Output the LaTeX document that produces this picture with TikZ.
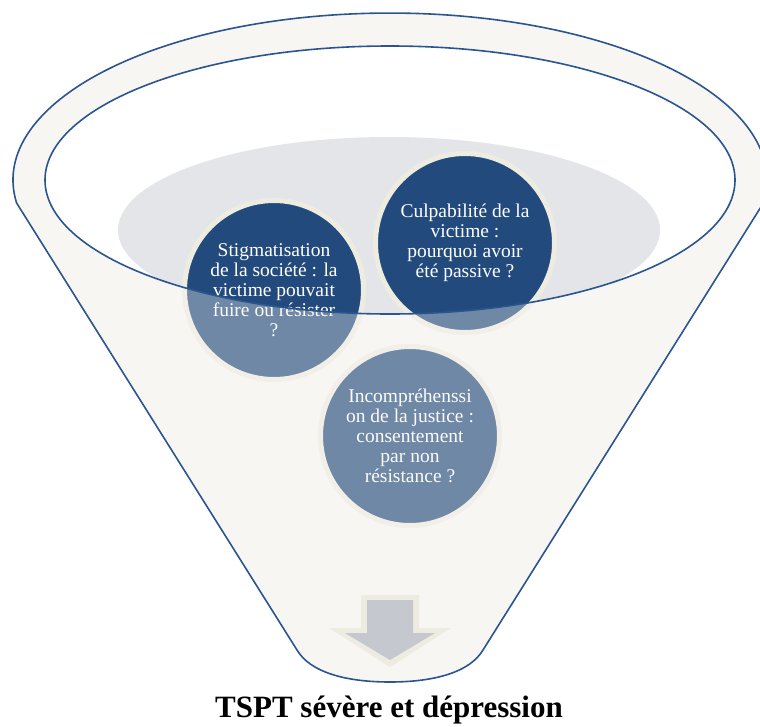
\documentclass[tikz,border=0pt]{standalone}
\usepackage{fontspec}
\setmainfont{Liberation Serif}
\definecolor{fline}{HTML}{2B5590}
\definecolor{ffill}{HTML}{F7F6F2}
\definecolor{cdark}{HTML}{224A7C}
\definecolor{cring}{HTML}{EEECE1}
\definecolor{lgray}{HTML}{E3E5E9}
\definecolor{agray}{HTML}{C5C8CE}
\tikzset{
  bubble/.style={circle, fill=cdark, draw=cring, line width=5pt, minimum size=179pt,
    inner sep=0pt, text=white, align=center, font=\fontsize{19.5}{20}\selectfont},
  outline/.style={draw=fline, line width=1.6pt},
  titlefont/.style={font=\fontsize{31}{33}\selectfont\bfseries, anchor=base}
}
\def\funnelpath{(16.6,203) arc[start angle=187.9,end angle=-7.9,x radius=377pt,y radius=167pt] -- (483,650) .. controls (470,672) and (435,682) .. (390,682) .. controls (345,682) and (310,672) .. (297,650) -- cycle}
\def\openpath{(390,180) ellipse[x radius=345pt,y radius=134pt]}
\begin{document}
\begin{tikzpicture}[x=1pt,y=-1pt]
\useasboundingbox (0,0) rectangle (760,726);
% funnel body
\fill[ffill] \funnelpath;
\fill[white] \openpath;
% liquid surface
\begin{scope}
  \clip \openpath;
  \fill[lgray] (389,230) ellipse[x radius=271pt,y radius=93pt];
\end{scope}
% bubbles
\node[bubble] (c1) at (274,290) {Stigmatisation\\de la société : la\\victime pouvait\\fuire ou résister\\?};
\node[bubble] (c2) at (465,243) {Culpabilité de la\\victime :\\pourquoi avoir\\été passive ?};
\node[bubble] (c3) at (410,436) {Incompréhenssi\\on de la justice :\\consentement\\par non\\résistance ?};
% translucent funnel body over the bubbles
\fill[ffill, fill opacity=0.36, even odd rule] \funnelpath \openpath;
% outlines
\draw[outline] \funnelpath;
\draw[outline] \openpath;
% arrow
\fill[cring] (361,595) -- (419,595) -- (419,628) -- (451,628) -- (390,667) -- (329,628) -- (361,628) -- cycle;
\fill[agray] (367,600) -- (413,600) -- (413,633) -- (435,633) -- (390,660) -- (345,633) -- (367,633) -- cycle;
% result
\node[titlefont] (t) at (389,717) {TSPT sévère et dépression};
\end{tikzpicture}
\end{document}
